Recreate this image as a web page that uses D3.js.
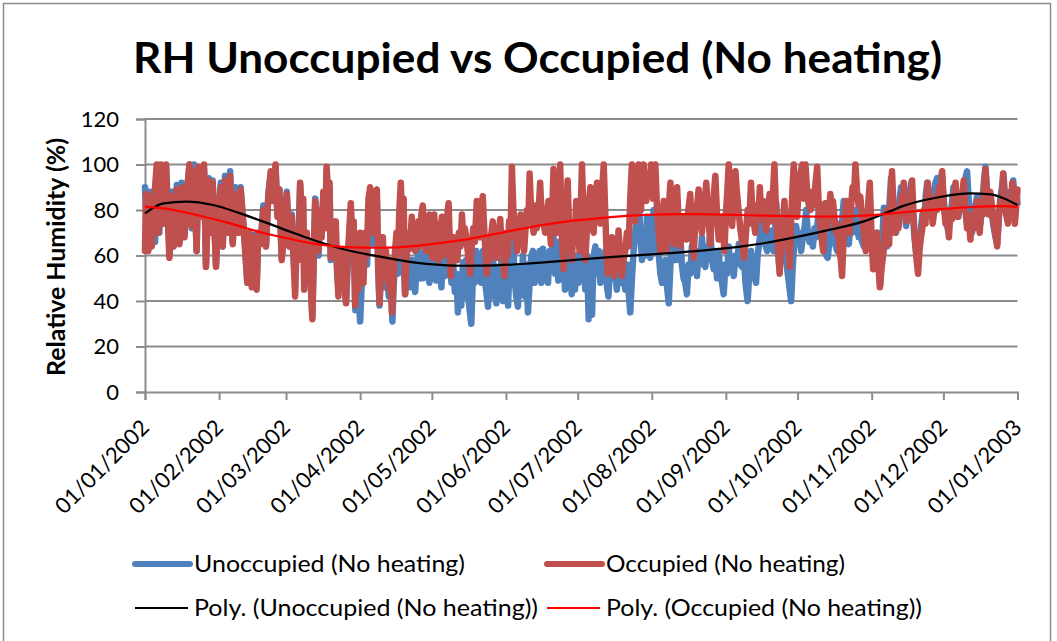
<!DOCTYPE html>
<html>
<head>
<meta charset="utf-8">
<script src="https://cdn.jsdelivr.net/npm/d3@7/dist/d3.min.js"></script>
<style>
  html, body { margin: 0; padding: 0; background: #fff; }
  svg { display: block; }
  text { font-family: Lato, "Open Sans", sans-serif; fill: #000; }
</style>
</head>
<body>
<svg id="chart" width="1057" height="641"></svg>
<script>
// Relative humidity, 2002 — each pair is [day of year (from 1 Jan), RH %]
const unoccupied = [
  [0,90],[0.8,70],[1.6,88],[2.4,64],[3.3,88],[4.2,66],[5.2,96],[6,70],[6.8,99],[7.8,75],[8.8,99],[9.8,78],[10.3,60],
  [11.3,88],[12,64],[13.3,91],[14.4,66],[15.3,92],[16.5,69],[17.4,86],[18.6,100],[19.5,72],[20.5,100],[21.6,62],
  [22.3,99],[23.3,77],[24.7,98],[25.5,56],[26.7,94],[27.5,70],[28.3,93],[29.7,56],[30.7,77],[31.7,92],[32.5,64],
  [33.5,95],[34.5,70],[35.6,97],[36.7,66],[37.8,90],[39,70],[40,90],[41.2,73],[41.9,64],[42.8,48],[43.7,70],
  [44.7,47],[45.6,69],[46.7,46],[47.4,70],[48.4,66],[49.5,82],[50.6,64],[51.6,87],[52.6,96],[53.7,84],[54.6,99],
  [55.4,78],[56.2,89],[57.2,59],[58.2,70],[59.3,88],[60.4,64],
  [61.4,78],[62,64],[62.5,52],[63.2,66],[64,60],[64.9,91],[65.6,76],[66.1,82],[66.6,48],[67.2,60],[67.7,66],
  [68.3,55],[68.8,52],[69.4,45],[70,33],[70.6,58],[71.2,85],[71.9,70],[72.6,60],[73.3,78],[74,76],[74.7,86],
  [75.3,72],[76,98],[76.7,80],[77.2,90],[77.7,58],[78.4,70],[79.1,69],[79.8,64],[80.4,52],[80.9,45],[81.6,56],
  [82.2,48],[82.7,58],[83.4,46],[84.1,40],[84.8,56],[85.4,66],[86.1,80],[86.7,62],[87.3,70],[88,36],[88.5,50],
  [89,50],[89.5,40],[90,31],[90.7,48],[91.5,55],[92.2,62],[92.9,56],[93.5,78],[94.2,85],[94.9,70],[95.6,65],
  [96.3,80],[97,84],[97.5,55],[98.1,38],[98.8,54],[99.5,62],[100.1,46],[100.8,56],[101.4,50],[102,42],[102.7,52],
  [103.5,31],[104,46],[104.6,58],[105.2,62],[105.8,52],[106.4,72],[107,86],[107.6,68],[108.2,58],[108.8,43],
  [109.5,52],[110.2,55],[110.9,46],[111.6,58],[112.3,50],[113,44],[113.7,56],[114.4,62],[115,50],[115.6,58],
  [116.2,50],[116.9,60],[117.5,66],[118.2,52],[119,48],
  [119.7,60],[120.4,50],[121.1,61],[121.8,49],[122.5,59],[123.2,54],[124,46],[124.7,60],[125.4,51],[126.1,62],
  [126.8,52],[127.5,58],[128.2,48],[128.9,57],[129.6,44],[130.3,52],[130.9,35],[131.6,51],[132.3,38],[133,57],
  [133.7,42],[134.4,58],[135.1,44],[135.8,36],[136.5,30],[137.2,52],[137.9,48],[138.6,62],[139.3,49],[140,60],
  [140.7,48],[141.4,62],[142.1,50],[142.8,44],[143.5,37.5],[144.2,52],[144.9,42],[145.6,58],[146.3,45],[147,39],
  [147.7,55],[148.4,45],[149.1,58],[149.8,40],[150.5,56],[151.2,44],[151.9,38],[152.6,60],[153.2,48],[153.9,72],
  [154.6,50],[155.3,42],[156,37.5],[156.7,55],[157.4,45],[158.1,60],[158.8,42],[159.5,56],[160.2,35],[160.9,48],
  [161.6,60],[162.3,62],[163,48],[163.7,60],[164.4,50],[165.1,62],[165.8,48],[166.5,63],[167.2,50],[167.9,60],
  [168.6,48],[169.3,62],[170,56],[170.8,70],[171.5,52],[172.2,66],[172.9,49],[173.6,65],[174.3,50],[175,60],
  [175.7,45],[176.4,61],[177.1,48],[177.8,58],[178.5,43],[179.2,58],[179.9,45],[180.6,60],[181.3,48],[182,62],
  [182.8,79],[183.5,55],[184.2,45],[184.9,60],[185.6,32],[186.3,58],[187,34],[187.7,60],
  [188.4,64],[189.1,52],[189.8,62],[190.5,48],[191.2,60],[191.9,50],[192.6,62],[193.3,46],[193.9,42],[194.6,58],
  [195.3,50],[196,64],[196.7,52],[197.4,45],[198.1,60],[198.8,48],[199.5,62],[200.2,50],[200.9,45],[201.6,56],
  [202.3,44],[203,35],[203.7,50],[204.4,62],[205.1,70],[205.8,78],[206.5,86],[207.2,70],[207.9,58],[208.6,66],
  [209.3,60],[210,77],[210.7,64],[211.4,59],[212.1,72],[212.8,80],[213.5,70],[214.2,62],[214.9,61],[215.6,52],
  [216.3,48],[217,56],[217.7,58],[218.4,46],[219.1,39],[219.8,56],[220.5,71],[221.2,62],[221.9,58],[222.6,66],
  [223.3,58],[223.9,70],[224.6,56],[225.3,50],[226,48],[226.7,43],[227.4,56],[228.1,52],[228.8,64],[229.5,54],
  [230.2,60],[230.9,51],[231.6,62],[232.3,56],[233,68],[233.7,58],[234.4,55],[235.1,64],[235.8,60],[236.5,71],
  [237.2,58],[237.9,54],[238.6,62],[239.3,50],[240,62],[240.7,52],[241.4,48],[242.1,43],[242.8,56],[243.5,52],
  [244.2,64],[244.9,55],[245.6,58],[246.3,51],[247,60],[247.7,56],[248.4,65],
  [249.1,62],[249.8,55],[250.5,60],[251.2,48],[252.1,40],[252.8,52],[253.5,62],[254.2,50],[254.9,58],[255.6,48],
  [256.3,60],[257,66],[257.7,72],[258.3,76],[259,68],[259.7,64],[260.3,62],[261,70],[261.7,66],[262.3,71],
  [263,62],[263.6,72],[264.1,83],[264.8,64],[265.4,54],[266.1,62],[266.8,60],[267.5,70],[268.2,58],[268.9,52],
  [269.6,46],[270.3,40],[271,56],[271.7,66],[272.4,73],[273.1,66],[273.8,70],[274.5,62],[275.2,68],[275.9,72],
  [276.6,80],[277.3,70],[278,66],[278.7,70],[279.4,64],[280.1,72],[280.8,68],[281.5,76],[282.2,83],[282.9,70],
  [283.6,66],[284.3,62],[285,60],[285.6,59],[286.3,66],[287,72],[287.6,77],[288.3,68],[289,64],[289.6,62],
  [290.3,70],[291,66],[291.7,76],[292.3,84],[293,72],[293.7,68],[294.4,65],[295.1,72],[295.8,70],[296.5,76],
  [297.2,80],[297.9,72],[298.6,68],[299.3,70],[300,66],[300.7,64],[301.4,70],[302.1,66],[302.8,72],[303.5,68],
  [304.2,62],[305,56],[305.7,64],[306.3,70],[307,56],[307.6,47],[308.4,66],[309.1,81],[309.8,72],[310.5,64],
  [311.3,80],
  [312.1,94],[312.8,82],[313.5,76],[314.2,70],[314.9,80],[315.6,84],[316.3,90],[317,80],[317.7,86],[318.4,73],
  [319.1,82],[319.8,86],[320.5,92],[321.2,78],[321.9,68],[322.5,62],[323.1,57],[323.8,64],[324.5,71],[325.2,78],
  [325.9,74],[326.6,86],[327.2,92],[327.9,84],[328.6,88],[329.3,80],[330,88],[330.7,92],[331.4,94],[332,85],
  [332.6,90],[333.3,96],[334,86],[334.7,78],[335.4,74],[336.1,70],[336.8,78],[337.5,82],[338.2,90],[338.9,84],
  [339.6,88],[340.3,77],[341,86],[341.7,82],[342.4,90],[343.2,94],[343.9,97],[344.6,84],[345.3,76],[346,70],
  [346.7,78],[347.4,82],[348.1,86],[348.8,80],[349.5,74],[350.2,82],[350.9,92],[351.6,99],[352.3,88],[353,82],
  [353.7,86],[354.4,77],[355.1,72],[355.8,68],[356.5,65],[357.2,76],[357.9,86],[358.5,90],[359.1,96],[359.8,86],
  [360.5,84],[361.2,80],[361.9,88],[362.6,86],[363.2,93],[363.9,84],[364.5,88],[365,83]
];

const occupied = [
  [0,62],[0.4,87],[1.4,62],[2.1,86],[2.8,64],[3.8,84],[4.9,100],[5.6,70],[6.6,100],[7.7,74],[8.8,100],[9.5,77],
  [10.2,59],[11.2,86],[11.9,64],[13.3,89],[14.4,65],[15.3,90],[16.5,68],[17.4,86],[18.6,100],[19.5,73],[20.5,97],
  [21.6,62],[22.3,99],[23.3,77],[24.7,100],[25.5,55],[26.7,93],[27.5,70],[28.3,92],[29.7,55],[30.7,77],[31.7,90],
  [32.5,64],[33.5,93],[34.5,70],[35.6,95],[36.7,65],[37.8,87],[39.1,70],[40,89],[41.2,73],[41.9,62],[42.8,48],
  [43.7,70],[44.7,46],[45.6,68],[46.7,45],[47.4,70],[48.4,65],[49.5,80],[50.6,64],[51.6,86],[52.6,97],[53.7,84],
  [54.6,100],[55.4,77],[56.2,89],[57.2,58],[58.2,70],[59.3,87],[60.4,64],
  [61.4,77],[62.1,60],[62.8,42],[63.5,70],[64.2,58],[64.9,92],[65.6,75],[66.2,85],[66.6,45],[67.2,62],[67.7,70],
  [68.3,55],[68.8,66],[69.4,50],[70,32],[70.6,60],[71.2,84],[71.9,70],[72.6,62],[73.2,80],[73.9,68],[74.6,88],
  [75.3,72],[76,99],[76.7,80],[77.2,92],[77.7,59],[78.4,72],[79.1,68],[79.8,75],[80.4,55],[80.9,42],[81.6,58],
  [82.2,50],[82.7,62],[83.4,48],[84.1,39],[84.8,60],[85.4,70],[86.1,83],[86.7,65],[87.3,75],[87.9,38],[88.6,55],
  [89.3,45],[90,70],[90.7,58],[91.4,48],[92.1,70],[92.8,60],[93.5,85],[94.2,90],[94.9,75],[95.6,70],[96.3,88],
  [97,89],[97.5,60],[98.1,39],[98.8,58],[99.5,68],[100.1,50],[100.8,62],[101.4,54],[102,45],[102.7,58],[103.3,35],
  [104,50],[104.6,62],[105.2,70],[105.8,60],[106.4,80],[107,92],[107.6,75],[108.2,85],[108.8,43],[109.5,60],
  [110.2,70],[110.9,63],[111.6,77],[112.3,65],[113,62],[113.7,70],[114.4,75],[115,64],[115.6,78],[116.2,82],
  [116.9,66],[117.5,62],[118.2,74],[119,78],[119.7,60],
  [120.4,59],[121,78],[121.6,64],[122.2,74],[122.8,58],[123.5,70],[124.2,77],[124.9,60],[125.5,72],[126,62],
  [126.5,78],[127,83],[127.5,66],[127.9,51],[128.6,62],[129.3,68],[130,60],[130.7,58],[131.3,70],[132,64],
  [132.6,78],[133.2,66],[133.8,72],[134.4,68],[135.2,60],[136,52],[136.7,64],[137.3,72],[138,66],[138.8,84],
  [139.5,74],[140.2,68],[140.8,80],[141.3,86],[142,70],[142.5,60],[143,52],[143.7,64],[144.3,58],[144.9,70],
  [145.5,75],[146.1,66],[146.7,70],[147.2,59],[147.9,68],[148.6,76],[149.2,64],[149.8,70],[150.3,51],[151,64],
  [151.7,60],[152.3,75],[152.9,68],[153.5,99],[154.1,80],[154.8,74],[155.6,62],[156.2,70],[156.7,66],[157.2,78],
  [157.9,68],[158.6,62],[159.2,72],[159.8,80],[160.4,75],[160.9,96],[161.5,80],[162,74],[162.6,70],[163.3,82],
  [163.9,72],[164.6,78],[165.3,92],[165.9,78],[166.6,75],[167.4,70],[168,78],[168.8,84],[169.3,72],[169.8,65],
  [170.4,80],[170.9,98],[171.5,82],[172.3,70],[172.9,85],[173.3,80],[173.7,100],[174.3,70],[175.1,54],[175.8,70],
  [176.3,80],[176.8,93],[177.5,70],[178.1,64],[178.6,58],[179.2,72],[179.8,68],[180.4,84],[181.1,70],[181.8,62],
  [182.3,80],
  [182.8,100],[183.5,75],[184.2,58],[184.9,72],[185.6,82],[186.3,90],[187,72],[187.7,70],[188.4,85],[189.1,92],
  [189.8,78],[190.5,74],[191.2,88],[191.9,100],[192.5,80],[193,64],[193.5,52],[194.2,66],[194.7,58],[195.3,68],
  [195.8,60],[196.3,51],[197,62],[197.5,56],[198.1,71],[198.8,60],[199.5,51],[200.2,58],[200.9,62],[201.6,70],
  [202.3,64],[203,85],[203.7,100],[204.4,82],[205.1,75],[205.8,92],[206.5,100],[207,85],[207.5,80],[208,95],
  [208.6,100],[209.2,90],[209.7,84],[210.3,96],[211,88],[211.7,100],[212.1,90],[212.5,85],[213,98],[213.5,100],
  [214.2,80],[214.9,70],[215.6,62],[216.3,75],[217,84],[217.5,70],[218.1,62],[218.9,78],[219.8,92],[220.5,78],
  [221.2,65],[221.9,80],[222.6,90],[223.2,75],[223.9,64],[224.6,72],[225.3,77],[225.9,70],[226.5,67],[227.3,80],
  [228.1,87],[228.8,70],[229.5,59],[230.1,72],[230.8,80],[231.6,89],[232.3,75],[233,70],[233.7,82],[234.3,86],
  [234.8,92],[235.6,78],[236.5,65],[237.2,80],[237.9,86],[238.6,95],[239.3,78],[240,67],[240.7,74],[241.4,77],
  [241.9,70],[242.4,62],[243,78],[243.6,88],[244.2,100],[244.9,85],[245.6,73],[246.3,84],[247,97],[247.6,88],
  [248.3,80],[249,72],[249.8,66],[250.7,59],[251.4,70],[252.1,80],[252.8,74],[253.5,92],[254.2,78],[255.3,70],
  [256,82],[256.6,76],[257.2,90],[257.9,76],[258.6,84],[259.3,74],[259.9,71],[260.6,80],[261.3,87],[261.9,75],
  [262.6,85],[263.3,100],[263.9,82],[264.5,70],[265,60],[265.5,52],[266.2,66],[266.8,74],[267.5,84],[268.2,70],
  [268.9,64],[269.7,55],[270.3,75],[270.9,90],[271.4,100],[272.1,84],[272.8,77],[273.4,88],[274.2,96],[274.9,100],
  [275.6,85],[276.3,100],[277,88],[277.7,82],[278.4,80],[279.1,88],[279.8,82],[280.5,92],[281.2,99],[281.9,80],
  [282.6,72],[283.2,66],[283.7,62],[284.2,74],[284.6,83],[285.1,76],[285.6,72],[286.2,80],[286.7,87],[287.3,80],
  [287.8,84],[288.4,77],[289.1,70],[289.8,74],[290.5,62],[291.1,58],[291.6,51],[292.2,66],[292.8,75],[293.4,84],
  [294.1,76],[294.8,70],[295.4,82],[296,90],[296.6,86],[297.2,100],[297.9,88],[298.5,82],[299.2,86],[300,77],
  [300.7,70],[301.5,62],[302.2,75],[302.7,85],[303.2,92],[303.9,70],[304.6,54],[305.3,62],[306,70],[306.7,58],
  [307.4,46],[308.2,55],[309,62],[309.6,74],[310.3,80],[310.8,70],[311.3,65],
  [312,88],[312.5,97],[313.1,82],[313.8,70],[314.5,80],[315.2,72],[315.8,77],[316.5,86],[317,80],[317.4,92],
  [318.1,80],[318.8,75],[319.5,84],[320.2,78],[320.9,93],[321.6,76],[322.2,66],[322.8,58],[323.4,52],[324,62],
  [324.6,68],[325.1,71],[325.8,80],[326.5,74],[327,86],[327.5,92],[328.2,80],[328.9,84],[329.5,74],[330,78],
  [330.7,86],[331.4,80],[332.1,90],[332.8,84],[333.5,97],[334.2,82],[334.9,74],[335.6,78],[336.3,68],[337,80],
  [337.7,76],[338.4,86],[339.1,92],[339.6,80],[340,77],[340.7,86],[341.4,80],[342,88],[342.5,93],[343.2,80],
  [343.9,72],[344.6,76],[345.3,67],[346,78],[346.7,72],[347.4,80],[348.1,84],[348.7,74],[349.2,70],[349.9,82],
  [350.5,78],[351,90],[351.6,98],[352.3,85],[352.9,78],[353.6,88],[354.4,81],[355,74],[355.7,70],[356.5,64],
  [357.2,78],[357.8,84],[358.4,80],[359,96],[359.7,82],[360.3,78],[361,74],[361.6,84],[362.2,80],[362.8,92],
  [363.4,80],[363.9,74],[364.5,82],[365,89]
];

// Polynomial trendlines, [day of year, RH %]
const polyUnoccupied = [
  [0,78.5],[7.7,82.9],[17.5,83.7],[28.5,82.2],[39.8,78.5],[49.5,74.9],[60.7,70.5],[70.4,66.8],[84.4,62.4],
  [98.4,59.5],[112.3,57],[123.5,55.9],[133.2,55.5],[147.2,55.7],[161.2,56.5],[175.1,57.6],[186.3,58.6],
  [196,59.4],[210,60.4],[224,61.4],[237.9,62.7],[249,63.9],[258.8,65.4],[272.8,68.2],[286.7,71.4],[300.7,75],
  [311.8,79.5],[317.3,81.8],[331.4,85.5],[345.3,87.3],[353.7,86.9],[359.1,85.2],[365,82.2]
];
const polyOccupied = [
  [0,81.5],[7.7,80.7],[21.6,77.8],[35.6,74.1],[49.5,69.9],[60.7,67.3],[70.4,65.2],[84.4,63.7],[98.4,63.4],
  [112.3,64.1],[123.5,65.5],[133.2,66.9],[147.2,69.6],[161.2,72.5],[175.1,74.8],[186.3,76],[196,77],[210,77.9],
  [224,78.2],[237.9,78.1],[249,77.8],[258.8,77.5],[272.8,77.2],[286.7,77.1],[300.7,77.5],[311.8,78.4],[317.3,79],
  [331.4,80.3],[345.3,81.3],[359.3,81.7],[365,81.3]
];

const yTicks = [0, 20, 40, 60, 80, 100, 120];
const monthTicks = ["2002-01-01","2002-02-01","2002-03-01","2002-04-01","2002-05-01","2002-06-01",
  "2002-07-01","2002-08-01","2002-09-01","2002-10-01","2002-11-01","2002-12-01","2003-01-01"];

const titleText = "RH Unoccupied vs Occupied (No heating)";
const yTitle = "Relative Humidity (%)";
const legendItems = [
  { label: "Unoccupied (No heating)", color: "#4F81BD", width: 6, row: 0, col: 0, len: 271 },
  { label: "Occupied (No heating)", color: "#C0504D", width: 6, row: 0, col: 1, len: 239 },
  { label: "Poly. (Unoccupied (No heating))", color: "#000000", width: 2, row: 1, col: 0, len: 344 },
  { label: "Poly. (Occupied (No heating))", color: "#FF0000", width: 2, row: 1, col: 1, len: 316 }
];

const svg = d3.select("#chart");
const start = new Date(2002, 0, 1);
const dayToDate = d => new Date(start.getTime() + d * 86400000);

const x = d3.scaleTime().domain([start, new Date(2003, 0, 1)]).range([145, 1017.5]);
const y = d3.scaleLinear().domain([0, 120]).range([392, 119]);

// chart border
svg.append("rect").attr("x", 3.5).attr("y", 3.5).attr("width", 1047).attr("height", 700)
  .attr("fill", "none").attr("stroke", "#8c8c8c").attr("stroke-width", 1.5);

// title
svg.append("text").attr("x", 133).attr("y", 73)
  .attr("font-size", 42).attr("font-weight", 700)
  .attr("textLength", 809).attr("lengthAdjust", "spacingAndGlyphs")
  .text(titleText);

// horizontal gridlines
svg.append("g").selectAll("line").data(yTicks.filter(v => v > 0)).join("line")
  .attr("x1", 145).attr("x2", 1017.5)
  .attr("y1", d => y(d)).attr("y2", d => y(d))
  .attr("stroke", "#8c8c8c").attr("stroke-width", 2);

// y axis
const yAxis = svg.append("g").attr("transform", "translate(145,0)")
  .call(d3.axisLeft(y).tickValues(yTicks).tickSize(9).tickPadding(17).tickFormat(d3.format("d")));
yAxis.select(".domain").attr("stroke", "#8c8c8c").attr("stroke-width", 2);
yAxis.selectAll(".tick line").attr("stroke", "#8c8c8c").attr("stroke-width", 2);
yAxis.selectAll(".tick text").attr("font-size", 22).attr("font-family", "Lato").attr("fill", "#000");

// x axis
const xAxis = svg.append("g").attr("transform", "translate(0,392)")
  .call(d3.axisBottom(x).tickValues(monthTicks.map(s => new Date(s + "T00:00:00")))
    .tickSize(8).tickFormat(d3.timeFormat("%d/%m/%Y")));
xAxis.select(".domain").attr("stroke", "#8c8c8c").attr("stroke-width", 2);
xAxis.selectAll(".tick line").attr("stroke", "#8c8c8c").attr("stroke-width", 2);
xAxis.selectAll(".tick text")
  .attr("font-size", 22).attr("font-family", "Lato").attr("fill", "#000")
  .attr("text-anchor", "end").attr("dy", 0).attr("y", 0)
  .attr("transform", "translate(5,37) rotate(-45)");

// axis title
svg.append("text").attr("transform", "translate(65,257) rotate(-90)")
  .attr("text-anchor", "middle").attr("font-size", 24).attr("font-weight", 700)
  .attr("textLength", 238).attr("lengthAdjust", "spacingAndGlyphs")
  .text(yTitle);

// data series
const seriesLine = d3.line().x(d => x(dayToDate(d[0]))).y(d => y(d[1])).curve(d3.curveLinear);
svg.append("path").datum(unoccupied).attr("d", seriesLine)
  .attr("fill", "none").attr("stroke", "#4F81BD").attr("stroke-width", 6.5)
  .attr("stroke-linejoin", "round").attr("stroke-linecap", "round");
svg.append("path").datum(occupied).attr("d", seriesLine)
  .attr("fill", "none").attr("stroke", "#C0504D").attr("stroke-width", 6.5)
  .attr("stroke-linejoin", "round").attr("stroke-linecap", "round");

// trendlines
const trendLine = d3.line().x(d => x(dayToDate(d[0]))).y(d => y(d[1])).curve(d3.curveMonotoneX);
svg.append("path").datum(polyUnoccupied).attr("d", trendLine)
  .attr("fill", "none").attr("stroke", "#000").attr("stroke-width", 2.2);
svg.append("path").datum(polyOccupied).attr("d", trendLine)
  .attr("fill", "none").attr("stroke", "#FF0000").attr("stroke-width", 2.2);

// legend
const colX = [135, 547];
const rowY = [564, 608];
const leg = svg.append("g").selectAll("g").data(legendItems).join("g")
  .attr("transform", d => `translate(${colX[d.col]},${rowY[d.row]})`);
leg.append("line").attr("x1", 0).attr("x2", d => d.width > 3 ? 55 : 53).attr("y1", 0).attr("y2", 0)
  .attr("stroke", d => d.color).attr("stroke-width", d => d.width)
  .attr("stroke-linecap", d => d.width > 3 ? "round" : "butt");
leg.append("text").attr("x", 59).attr("y", 8).attr("font-size", 23)
  .attr("textLength", d => d.len).attr("lengthAdjust", "spacingAndGlyphs")
  .text(d => d.label);
</script>
</body>
</html>
